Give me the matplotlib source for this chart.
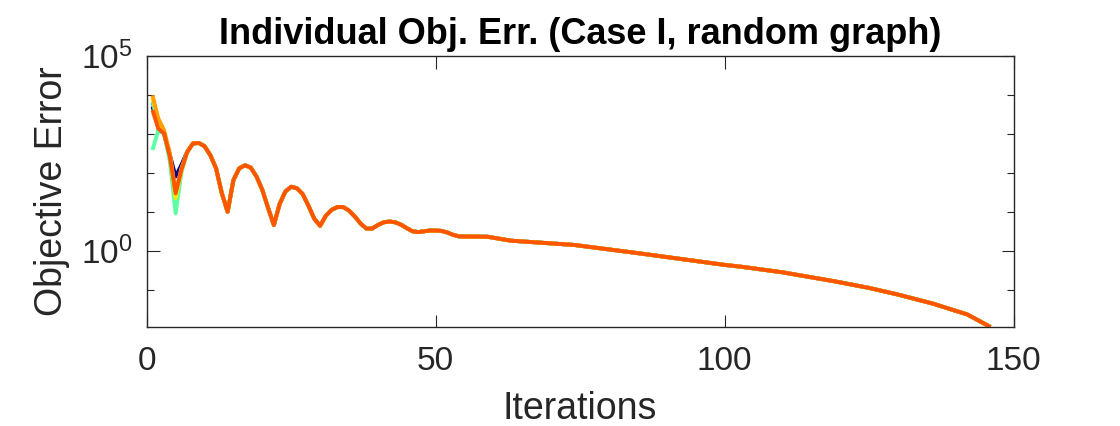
import numpy as np
import matplotlib
matplotlib.use('Agg')
import matplotlib.pyplot as plt
from matplotlib.ticker import FixedLocator, NullFormatter

plt.rcParams['font.family'] = ['Liberation Sans', 'DejaVu Sans']
plt.rcParams['mathtext.fontset'] = 'custom'
plt.rcParams['mathtext.rm'] = 'Liberation Sans'

# values are log10 of the objective error
head_iters = [1, 2, 3, 4, 5, 6]
head_blue = [3.70, 3.15, 3.00, 2.45, 1.90, 2.20]
head_cyan = [3.81, 3.20, 3.02, 2.40, 1.20, 2.10]
head_green = [2.58, 3.09, 3.00, 2.30, 0.96, 2.00]
head_yellow = [3.90, 3.30, 3.05, 2.45, 1.35, 2.05]
head_orange = [3.98, 3.39, 3.09, 2.50, 1.50, 2.10]
head_red = [3.60, 3.13, 3.00, 2.41, 1.47, 2.07]

tail_iters = [7, 8, 9, 10, 11, 12, 13, 14, 15, 16, 17, 18, 19, 20,
              21, 22, 23, 24, 25, 26, 27, 28, 29, 30, 31, 32, 33, 34, 35,
              36, 37, 38, 39, 40, 41, 42, 43, 44, 45, 46, 47, 48, 49, 50,
              51, 52, 53, 54, 55, 57, 59, 63, 66, 74, 85, 100, 103, 110,
              119, 125, 130, 136, 142, 146]
tail_err = [2.53, 2.75, 2.76, 2.68, 2.45, 2.11, 1.47, 1.00, 1.81, 2.11,
            2.19, 2.13, 1.90, 1.56, 1.10, 0.66, 1.20, 1.52, 1.64, 1.60,
            1.45, 1.15, 0.82, 0.64, 0.90, 1.05, 1.12, 1.12, 1.03, 0.88,
            0.70, 0.57, 0.57, 0.66, 0.73, 0.75, 0.73, 0.67, 0.58, 0.50,
            0.48, 0.50, 0.52, 0.52, 0.51, 0.47, 0.41, 0.37, 0.365, 0.365,
            0.36, 0.26, 0.23, 0.15, -0.06, -0.36, -0.41, -0.55, -0.78,
            -0.95, -1.12, -1.35, -1.63, -1.95]

agents = [
    (head_blue, '#00008F'),
    (head_cyan, '#00D5FF'),
    (head_green, '#5CFFA3'),
    (head_yellow, '#FFE600'),
    (head_orange, '#FFA000'),
    (head_red, '#FF5500'),
]

fig = plt.figure(figsize=(11.2, 4.26), dpi=100)
ax = fig.add_axes([0.131, 0.2324, 0.774, 0.6373])

for head, color in agents:
    x = head_iters + tail_iters
    y = np.power(10.0, head + tail_err)
    ax.plot(x, y, color=color, lw=2.8, solid_joinstyle='round',
            solid_capstyle='butt')

ax.set_yscale('log')
ax.set_xlim(0, 150)
ax.set_ylim(10 ** -1.95, 1e5)
ax.set_xticks([0, 50, 100, 150])
ax.yaxis.set_major_locator(FixedLocator([1e0, 1e5]))
ax.yaxis.set_minor_locator(FixedLocator([1e-1, 1e1, 1e2, 1e3, 1e4]))
ax.yaxis.set_minor_formatter(NullFormatter())

dark = '#262626'
for s in ax.spines.values():
    s.set_color(dark)
    s.set_linewidth(1.0)
ax.tick_params(which='both', direction='in', top=True, right=True,
               colors=dark, labelsize=24, width=0.8)
ax.tick_params(which='major', length=9)
ax.tick_params(which='minor', length=5)
ax.tick_params(axis='x', pad=14)
ax.tick_params(axis='y', pad=10)

ax.set_xlabel('Iterations', fontsize=27, color=dark, labelpad=10)
ax.set_ylabel('Objective Error', fontsize=27, color=dark, labelpad=8)
ax.set_title('Individual Obj. Err. (Case I, random graph)', fontsize=26,
             fontweight='bold', color='black', pad=8)

fig.savefig('out.png', dpi=100)
